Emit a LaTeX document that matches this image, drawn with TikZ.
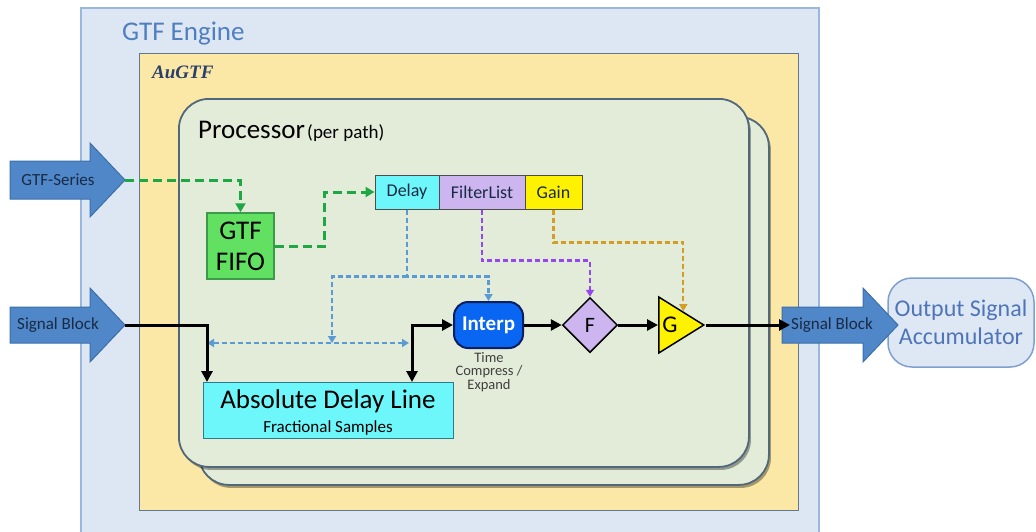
\documentclass[tikz,border=0pt]{standalone}
\usepackage{fontspec}
\setmainfont{Carlito}
\newfontfamily\augfont{Liberation Serif}
\usetikzlibrary{arrows.meta,shapes.geometric,shadows,calc}
\definecolor{engfill}{HTML}{DDE7F3}
\definecolor{engline}{HTML}{9BB7DD}
\definecolor{engtitle}{HTML}{4F7FC0}
\definecolor{augfill}{HTML}{FCE8A6}
\definecolor{augline}{HTML}{62788C}
\definecolor{augtext}{HTML}{2A3F6A}
\definecolor{cardfill}{HTML}{E3ECD9}
\definecolor{cardline}{HTML}{50687A}
\definecolor{barfill}{HTML}{4F87C9}
\definecolor{barline}{HTML}{3C6FA8}
\definecolor{bartext}{HTML}{1A2A44}
\definecolor{cyanbox}{HTML}{6EF7FA}
\definecolor{cyanline}{HTML}{2E7A8A}
\definecolor{lavbox}{HTML}{CDB6F0}
\definecolor{fifofill}{HTML}{62E062}
\definecolor{fifoline}{HTML}{3C9A4A}
\definecolor{gdash}{HTML}{1EA845}
\definecolor{bdash}{HTML}{5B9BD5}
\definecolor{pdash}{HTML}{9447EE}
\definecolor{odash}{HTML}{D29E26}
\definecolor{intfill}{HTML}{0866F2}
\definecolor{intline}{HTML}{0B1F5E}
\definecolor{captext}{HTML}{404040}
\definecolor{outfill}{HTML}{DDE8F4}
\definecolor{outline}{HTML}{7F9FCC}
\definecolor{outtext}{HTML}{4F74B8}
\tikzset{
  card/.style={draw=cardline, fill=cardfill, line width=1.8, rounded corners=30,
    minimum width=570, minimum height=368, anchor=north west, inner sep=0,
    drop shadow={shadow xshift=2pt, shadow yshift=-3pt, fill=black, opacity=0.35}},
  blockarrow/.style={draw=barline, fill=barfill, line width=1},
  bartxt/.style={text=bartext, font=\fontsize{17}{20}\selectfont, inner sep=0},
  param/.style={draw=black!70, line width=1, minimum height=34, inner sep=0,
    text=bartext, font=\fontsize{18}{21}\selectfont},
  blk/.style={line width=3, -{Triangle[length=11pt,width=11pt]}},
  blkboth/.style={line width=3, {Triangle[length=11pt,width=11pt]}-{Triangle[length=11pt,width=11pt]}},
  greendash/.style={draw=gdash, line width=3, dash pattern=on 9pt off 5pt, -{Triangle[length=9pt,width=10pt]}},
  bluedash/.style={draw=bdash, line width=2.2, dash pattern=on 5pt off 3pt, -{Triangle[length=7pt,width=8pt]}},
  purpdash/.style={draw=pdash, line width=2.2, dash pattern=on 5pt off 3pt, -{Triangle[length=7pt,width=8pt]}},
  orgdash/.style={draw=odash, line width=2.2, dash pattern=on 5pt off 3pt, -{Triangle[length=7pt,width=8pt]}}
}
\begin{document}
\begin{tikzpicture}[x=1pt,y=-1pt]
\useasboundingbox (0,0) rectangle (1036,531);
% containers
\node[draw=engline, fill=engfill, line width=1.8, minimum width=738, minimum height=540, anchor=north west, inner sep=0] (engine) at (80,7) {};
\node[anchor=base west, text=engtitle, font=\fontsize{27}{32}\selectfont, inner sep=0] (engtitle) at (122,40) {GTF Engine};
\node[draw=augline, fill=augfill, line width=1.2, minimum width=659, minimum height=457, anchor=north west, inner sep=0] (aug) at (139,53) {};
\node[anchor=base west, text=augtext, font=\augfont\bfseries\itshape\fontsize{19}{22}\selectfont, inner sep=0] (augt) at (152,78) {AuGTF};
\node[card] (cardback) at (198,116) {};
\node[card] (cardfront) at (178,98) {};
\node[anchor=base west, inner sep=0] (proc) at (198,138) {{\fontsize{27}{32}\selectfont Processor} {\fontsize{19}{22}\selectfont (per path)}};
% block arrows
\path[blockarrow] (10,161) -- (90,161) -- (90,143) -- (125,180) -- (90,217) -- (90,199) -- (10,199) -- cycle;
\coordinate (gtfsTip) at (125,180);
\node[bartxt] (gtfs) at (58,180) {GTF-Series};
\path[blockarrow] (10,307) -- (90,307) -- (90,288) -- (125,325) -- (90,362) -- (90,343) -- (10,343) -- cycle;
\coordinate (sbTip) at (125,325);
\node[bartxt] (sbl) at (58,325) {Signal Block};
% output accumulator
\node[draw=outline, fill=outfill, line width=1.5, rounded corners=24, minimum width=146, minimum height=89, align=center, text=outtext, font=\fontsize{24}{28}\selectfont, inner sep=0] (acc) at (961,322.5) {Output Signal\\Accumulator};
\path[blockarrow] (782,307) -- (863,307) -- (863,288) -- (898,325) -- (863,362) -- (863,343) -- (782,343) -- cycle;
\coordinate (sbrIn) at (790,325);
\node[bartxt] (sbr) at (832,325) {Signal Block};
% inner blocks
\node[draw=fifoline, fill=fifofill, line width=1.5, minimum width=67, minimum height=66, align=center, font=\fontsize{27}{31}\selectfont, inner sep=0] (fifo) at (240.5,246) {GTF\\FIFO};
\node[param, fill=cyanbox, minimum width=64] (delay) at (407,192) {Delay};
\node[param, fill=lavbox, minimum width=86] (filt) at (482,192) {FilterList};
\node[param, fill=yellow, minimum width=57] (gain) at (553.5,192) {Gain};
\node[draw=intline, fill=intfill, line width=2, rounded corners=14, minimum width=69, minimum height=46, text=white, font=\bfseries\fontsize{21}{25}\selectfont, inner sep=0] (interp) at (488.5,325) {Interp};
\node[anchor=north, align=center, text=captext, font=\fontsize{14.5}{13.5}\selectfont, inner sep=0] (cap) at (489,352) {Time\\Compress /\\Expand};
\node[diamond, draw=black, fill=lavbox, line width=1.5, minimum width=55, minimum height=55, inner sep=0, font=\fontsize{22}{26}\selectfont] (F) at (590,325) {F};
\node[isosceles triangle, isosceles triangle stretches, draw=black, fill=yellow, line width=1.5, minimum width=56, minimum height=45, inner sep=0, anchor=west] (Gtri) at (658,325) {};
\node[font=\fontsize{24}{28}\selectfont, inner sep=0] (Gt) at (670,325) {G};
\node[draw=cyanline, fill=cyanbox, line width=1.2, minimum width=250, minimum height=56, anchor=north west, inner sep=0] (adl) at (203,382) {};
\node[anchor=base, font=\fontsize{27}{32}\selectfont, inner sep=0] (adlt) at (328,408) {Absolute Delay Line};
\node[anchor=base, font=\fontsize{17}{20}\selectfont, inner sep=0] (adls) at (328,432) {Fractional Samples};
% coordinates
\coordinate (bsplit) at ($(delay.south)+(0,67)$);
\coordinate (bdown) at (332,343);
\coordinate (bL) at (207,343);
\coordinate (bR) at (409,343);
\coordinate (adlIn) at ($(adl.north west)+(4,0)$);
\coordinate (adlOut) at ($(adl.north west)+(209,0)$);
\coordinate (gIn) at ($(Gtri.apex)!0.47!(Gtri.left corner)$);
% dashed connectors
\draw[greendash] (gtfsTip) -| (fifo.north);
\draw[greendash] (fifo.east) -| ($(fifo.east)!.5!(delay.west)$) |- (delay.west);
\draw[bluedash] (delay.south) -- (bsplit) -| (interp.north);
\draw[bluedash] (bsplit) -| (bdown);
\draw[bluedash, {Triangle[length=7pt,width=8pt]}-{Triangle[length=7pt,width=8pt]}] (bL) -- (bR);
\draw[purpdash] (filt.south) -- ++(0,51) -| (F.north);
\draw[orgdash] (gain.south) -- ++(0,33) -| (gIn);
% signal path
\draw[blk] (sbTip) -| (adlIn);
\draw[blkboth] (adlOut) |- (interp.west);
\draw[blk] (interp.east) -- (F.west);
\draw[blk] (F.east) -- (Gtri.west);
\draw[blk] (Gtri.apex) -- (sbrIn);
\end{tikzpicture}
\end{document}
